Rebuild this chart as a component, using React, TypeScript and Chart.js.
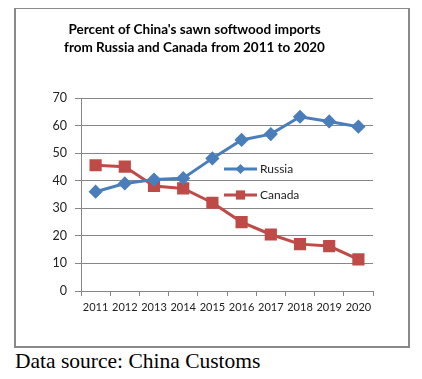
import React, { useEffect, useRef } from "react";
import { Chart, registerables } from "chart.js";

Chart.register(...registerables);

const years = ["2011", "2012", "2013", "2014", "2015", "2016", "2017", "2018", "2019", "2020"];
const russia = [36.0, 39.0, 40.4, 40.9, 48.1, 54.8, 56.9, 63.2, 61.5, 59.6];
const canada = [45.6, 45.1, 38.1, 37.2, 32.0, 25.0, 20.5, 17.0, 16.3, 11.5];
const titleLines = ["Percent of China's sawn softwood imports", "from Russia and Canada from 2011 to 2020"];
const sourceText = "Data source: China Customs";

const FONT = "Lato, 'DejaVu Sans', sans-serif";

const legendPlugin = {
  id: "insideLegend",
  afterDraw(chart: any) {
    const ctx = chart.ctx;
    const rows = [160, 186];
    chart.data.datasets.forEach((ds: any, i: number) => {
      const y = rows[i];
      const x0 = 208, x1 = 241;
      ctx.save();
      ctx.strokeStyle = ds.borderColor;
      ctx.lineWidth = ds.borderWidth;
      ctx.beginPath();
      ctx.moveTo(x0, y);
      ctx.lineTo(x1, y);
      ctx.stroke();
      ctx.restore();
      ctx.save();
      ctx.fillStyle = ds.pointBackgroundColor;
      const r = ds.pointRadius;
      const cx = (x0 + x1) / 2;
      ctx.beginPath();
      if (ds.pointStyle === "rectRot") {
        ctx.moveTo(cx, y - r);
        ctx.lineTo(cx + r, y);
        ctx.lineTo(cx, y + r);
        ctx.lineTo(cx - r, y);
        ctx.closePath();
      } else {
        const s = Math.SQRT1_2 * r;
        ctx.rect(cx - s, y - s, 2 * s, 2 * s);
      }
      ctx.fill();
      ctx.restore();
      ctx.save();
      ctx.fillStyle = "#222";
      ctx.font = "12px " + FONT;
      ctx.textBaseline = "middle";
      ctx.textAlign = "left";
      ctx.fillText(ds.label, 244, y);
      ctx.restore();
    });
  },
};

export default function App() {
  const ref = useRef<HTMLCanvasElement>(null);
  useEffect(() => {
    const chart = new Chart(ref.current!, {
      type: "line",
      data: {
        labels: years,
        datasets: [
          {
            label: "Russia",
            data: russia,
            borderColor: "#4a7ebb",
            backgroundColor: "#4a7ebb",
            pointBackgroundColor: "#4a7ebb",
            pointBorderColor: "#4a7ebb",
            borderWidth: 3,
            pointStyle: "rectRot",
            pointRadius: 5,
            tension: 0,
          },
          {
            label: "Canada",
            data: canada,
            borderColor: "#be4b48",
            backgroundColor: "#be4b48",
            pointBackgroundColor: "#be4b48",
            pointBorderColor: "#be4b48",
            borderWidth: 3,
            pointStyle: "rect",
            pointRadius: 6.5,
            tension: 0,
          },
        ],
      },
      options: {
        animation: false,
        responsive: false,
        layout: { padding: { left: 0, right: 35, top: 0, bottom: 0 } },
        plugins: {
          legend: { display: false },
          tooltip: { enabled: false },
          title: {
            display: true,
            text: titleLines,
            color: "#000",
            font: { family: FONT, size: 13.5, weight: "bold", lineHeight: "18px" },
            padding: { top: 12, bottom: 41 },
          },
        },
        scales: {
          x: {
            offset: true,
            grid: {
              display: true,
              offset: true,
              drawOnChartArea: false,
              drawTicks: true,
              tickLength: 5,
              color: "#868686",
            },
            border: { display: true, color: "#868686", width: 1 },
            ticks: {
              color: "#222",
              font: { family: FONT, size: 11 },
              padding: 5,
              maxRotation: 0,
              autoSkip: false,
            },
            afterFit(scale: any) {
              scale.height = 55;
            },
          },
          y: {
            min: 0,
            max: 70,
            ticks: {
              stepSize: 10,
              color: "#222",
              font: { family: FONT, size: 12.5 },
              padding: 8,
            },
            grid: { color: "#868686", tickLength: 6 },
            border: { display: true, color: "#868686", width: 1 },
            afterFit(scale: any) {
              scale.width = 65;
            },
          },
        },
      },
      plugins: [legendPlugin],
    });
    return () => chart.destroy();
  }, []);

  return (
    <div style={{ position: "relative", margin: -8, width: 422, height: 379, background: "#fff", overflow: "hidden" }}>
      <div
        style={{
          position: "absolute",
          left: 14,
          top: 7,
          width: 392,
          height: 337,
          border: "2px solid #8a8a8a",
          background: "#fff",
        }}
      >
        <canvas ref={ref} width={392} height={337} style={{ display: "block" }} />
      </div>
      <div
        style={{
          position: "absolute",
          left: 15,
          top: 349,
          fontFamily: "'Liberation Serif', 'Times New Roman', serif",
          fontSize: 21.5,
          lineHeight: "24px",
          color: "#000",
          whiteSpace: "nowrap",
        }}
      >
        {sourceText}
      </div>
    </div>
  );
}
